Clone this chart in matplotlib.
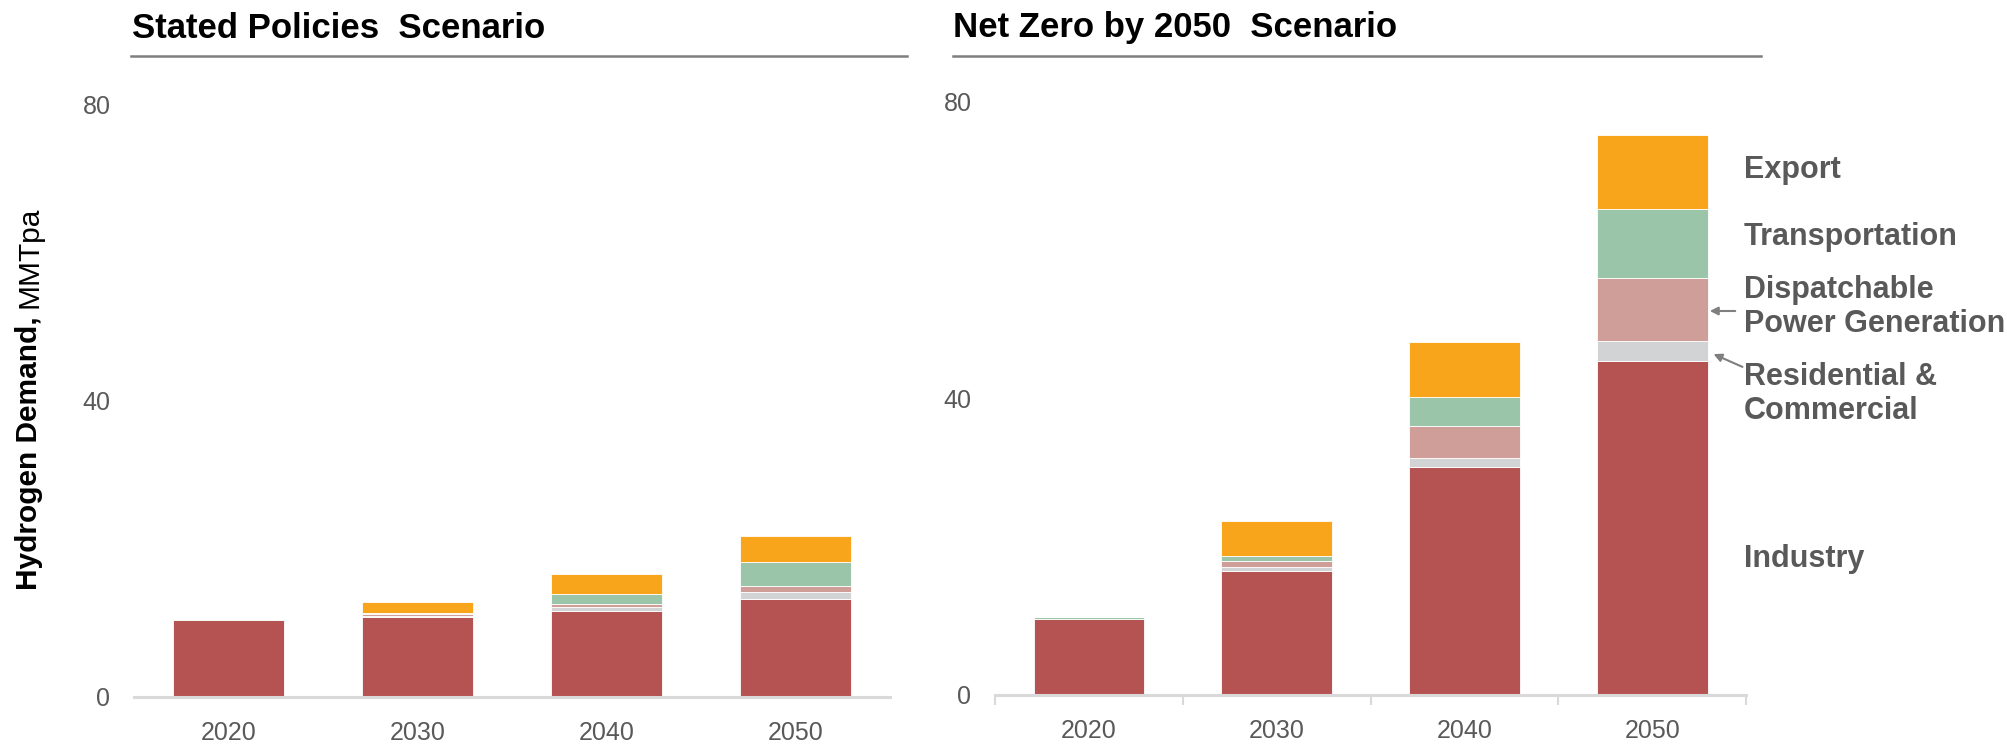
import matplotlib
matplotlib.use("Agg")
import matplotlib.pyplot as plt
from matplotlib.lines import Line2D
from matplotlib.patches import FancyArrowPatch
import numpy as np

# Hydrogen demand by sector, MMTpa
years = ["2020", "2030", "2040", "2050"]
sectors = ["Industry", "Residential &\nCommercial", "Dispatchable\nPower Generation",
           "Transportation", "Export"]
colors = ["#B55252", "#D1D3D4", "#CF9E98", "#9AC5A8", "#F8A51B"]

steps_industry = [10.4, 10.8, 11.6, 13.3]
steps_residential = [0.0, 0.2, 0.6, 0.9]
steps_dispatchable = [0.0, 0.2, 0.4, 0.8]
steps_transport = [0.2, 0.2, 1.3, 3.3]
steps_export = [0.0, 1.5, 2.7, 3.4]

nze_industry = [10.3, 16.7, 30.7, 45.1]
nze_residential = [0.0, 0.5, 1.3, 2.6]
nze_dispatchable = [0.0, 0.9, 4.3, 8.6]
nze_transport = [0.2, 0.7, 3.9, 9.2]
nze_export = [0.0, 4.7, 7.4, 10.0]

SANS = ["Liberation Sans", "DejaVu Sans"]
GREY = "#595959"
W, H = 2007, 746

fig = plt.figure(figsize=(W / 100, H / 100), dpi=100)
ax_l = fig.add_axes([0.0668, 0.0657, 0.3767, 0.7936])
ax_r = fig.add_axes([0.4958, 0.0684, 0.3742, 0.795])


def draw_stack(ax, series, boundary_ticks):
    x = np.arange(len(years))
    bottom = np.zeros(len(years))
    for vals, c in zip(series, colors):
        vals = np.array(vals)
        ax.bar(x, vals, width=0.59, bottom=bottom, color=c,
               edgecolor="white", linewidth=0.6, zorder=2)
        bottom += vals
    ax.set_xlim(-0.5, 3.5)
    ax.set_ylim(0, 80)
    ax.set_yticks([0, 40, 80])
    ax.set_xticks(x)
    ax.set_xticklabels(years)
    for s in ["top", "right", "left"]:
        ax.spines[s].set_visible(False)
    ax.spines["bottom"].set_color("#D9D9D9")
    ax.spines["bottom"].set_linewidth(2.2)
    ax.tick_params(axis="both", length=0, labelcolor=GREY, labelsize=18)
    ax.tick_params(axis="x", pad=17)
    ax.tick_params(axis="y", pad=17)
    if boundary_ticks:
        ax.set_xticks(np.arange(-0.5, 4.0, 1.0), minor=True)
        ax.tick_params(axis="x", which="minor", length=7, width=1.5, color="#D9D9D9")
    for lab in ax.get_xticklabels() + ax.get_yticklabels():
        lab.set_family(SANS)


draw_stack(ax_l, [steps_industry, steps_residential, steps_dispatchable,
                  steps_transport, steps_export], False)
draw_stack(ax_r, [nze_industry, nze_residential, nze_dispatchable,
                  nze_transport, nze_export], True)

# Panel titles with underline
fig.text(132 / W, 1 - 28 / H, "Stated Policies  Scenario", family=SANS,
         weight="bold", size=25, ha="left", va="center")
fig.text(953 / W, 1 - 28 / H, "Net Zero by 2050  Scenario", family=SANS,
         weight="bold", size=25, ha="left", va="center")
for x0, x1 in [(131, 907), (953, 1761)]:
    fig.add_artist(Line2D([x0 / W, x1 / W], [1 - 56 / H] * 2,
                          color="#7F7F7F", linewidth=1.8))

# Y axis label: bold part followed by the regular unit
t_bold = fig.text(29 / W, 1 - 590 / H, "Hydrogen Demand, ", rotation=90,
                  ha="center", va="bottom", size=21.5, weight="bold", family=SANS)
fig.canvas.draw()
bb = t_bold.get_window_extent(fig.canvas.get_renderer())
fig.text(29 / W, bb.y1 / H, "MMTpa", rotation=90, ha="center", va="bottom",
         size=21.5, family=SANS)

# Sector labels beside the 2050 net-zero bar
label_pos = [559, 394, 307, 237, 170]
for y, txt in zip(label_pos, sectors):
    fig.text(1744 / W, 1 - y / H, txt, family=SANS, weight="bold",
             size=22, color=GREY, ha="left", va="center", linespacing=1.15)

for start, end in [((1738, 311), (1707, 311)), ((1745, 368), (1711, 353))]:
    fig.add_artist(FancyArrowPatch(
        (start[0] / W, 1 - start[1] / H), (end[0] / W, 1 - end[1] / H),
        transform=fig.transFigure, arrowstyle="-|>", mutation_scale=12,
        color="#7F7F7F", linewidth=1.5))

fig.savefig("out.png", dpi=100, facecolor="white")
